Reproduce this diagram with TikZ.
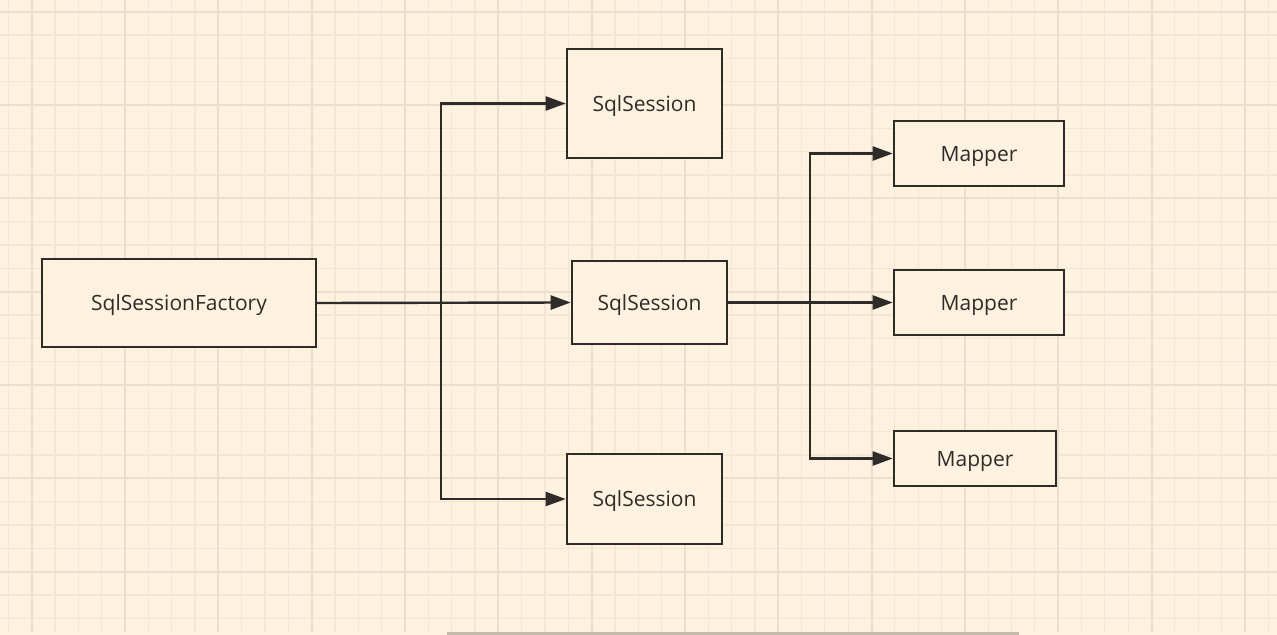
\documentclass[tikz,border=0pt]{standalone}
\usepackage{fontspec}
\setmainfont{Open Sans}
\usetikzlibrary{arrows.meta}
\definecolor{paper}{RGB}{253,242,224}
\definecolor{gridminor}{RGB}{243,231,212}
\definecolor{gridmajor}{RGB}{234,222,204}
\definecolor{ink}{RGB}{46,43,40}
\definecolor{scrollbar}{RGB}{196,186,172}
\begin{document}
\begin{tikzpicture}[x=0.5pt, y=-0.5pt,
    box/.style = {draw=ink, line width=1.3pt, fill=paper, text=ink,
                  font=\fontsize{10.5}{12}\selectfont, inner sep=0pt,
                  text height=7.6pt, text depth=0pt},
    link/.style = {draw=ink, line width=1.2pt, -{Triangle[length=10pt,width=7pt]}},
    minor/.style = {draw=gridminor, line width=0.6pt},
    major/.style = {draw=gridmajor, line width=0.9pt}]
  \useasboundingbox (0,0) rectangle (1277,635);
  % paper and grid
  \fill[paper] (0,0) rectangle (1277,635);
  \foreach \i in {0,...,54} \draw[minor] ({8.33+23.33*\i},0) -- ++(0,632);
  \foreach \i in {0,...,26} \draw[minor] (0,{11.67+23.33*\i}) -- ++(1277,0);
  \foreach \i in {0,...,13} \draw[major] ({31.67+93.33*\i},0) -- ++(0,632);
  \foreach \i in {0,...,6} \draw[major] (0,{11.67+93.33*\i}) -- ++(1277,0);
  \fill[scrollbar] (447,632) rectangle (1019,635);
  % boxes
  \node[box, minimum width=137pt, minimum height=44pt] (factory) at (179,303) {SqlSessionFactory};
  \node[box, minimum width=77.5pt, minimum height=54.5pt] (sessA) at (644.5,103.5) {SqlSession};
  \node[box, minimum width=77.5pt, minimum height=41.5pt] (sessB) at (649.5,302.5) {SqlSession};
  \node[box, minimum width=77.5pt, minimum height=45pt] (sessC) at (644.5,499) {SqlSession};
  \node[box, minimum width=85pt, minimum height=32.5pt] (mapA) at (979,153.5) {Mapper};
  \node[box, minimum width=85pt, minimum height=32.5pt] (mapB) at (979,302.5) {Mapper};
  \node[box, minimum width=81pt, minimum height=27.5pt] (mapC) at (975,458.5) {Mapper};
  \coordinate (split) at (441,303);
  \coordinate (fork) at (810,302.5);
  % connectors
  \draw[link] (factory.east) -- (split) |- (sessA.west);
  \draw[link] (factory.east) -- (sessB.west);
  \draw[link] (factory.east) -- (split) |- (sessC.west);
  \draw[link] (sessB.east) -- (fork) |- (mapA.west);
  \draw[link] (sessB.east) -- (mapB.west);
  \draw[link] (sessB.east) -- (fork) |- (mapC.west);
\end{tikzpicture}
\end{document}
